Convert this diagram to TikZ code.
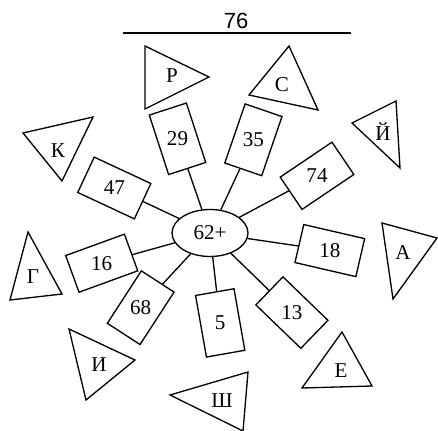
\documentclass[tikz,border=0pt]{standalone}
\usepackage{fontspec}
\setmainfont{Liberation Serif}
\setsansfont{Liberation Sans}
\usetikzlibrary{shapes.geometric}

\tikzset{
    card/.style={draw, rectangle, minimum width=0.78cm, minimum height=1.25cm, inner sep=1pt},
    hub/.style={draw, ellipse, minimum width=1.52cm, minimum height=0.94cm, inner sep=1pt},
    letter/.style={inner sep=0pt}
}

\begin{document}
\begin{tikzpicture}[x=0.02cm, y=-0.02cm, line width=0.75pt, font=\fontsize{12}{14}\selectfont]
        \useasboundingbox (0,0) rectangle (438,431);
        \node[font=\sffamily\fontsize{12.5}{15}\selectfont] (num) at (236,21) {76};
        \draw (123,33) -- (351,33);
        \node[hub] (e) at (210,233) {62+};
        % cards round the hub
        \foreach \n/\x/\y/\a [evaluate=\a as \b using -\a] in {29/177.5/138.8/18,
            35/253.4/139.8/-19, 74/317/175.8/-56, 18/329.8/250.6/77, 13/291.9/312.6/46,
            5/220.2/322.9/10, 68/140.7/307.7/-33, 16/101.7/263.2/-70, 47/114.3/188/65}
        \node[card, rotate=\a] (r\n) at (\x,\y) {\rotatebox{\b}{\n}};
        \foreach \n in {29,35,74,18,13,5,68,16,47}
        \draw (e) -- (r\n);
        % triangles
        \draw (145,46) -- (209,77) -- (145,109) -- cycle;
        \node[letter] (tR) at (172,76) {Р};
        \draw (289,46) -- (318,110) -- (249,95) -- cycle;
        \node[letter] (tS) at (282,85) {С};
        \draw (396,101) -- (400,168) -- (352,123) -- cycle;
        \node[letter] (tJ) at (383,132) {Й};
        \draw (23,133) -- (93,117) -- (62,181) -- cycle;
        \node[letter] (tK) at (58,151) {К};
        \draw (28,232) -- (62,294) -- (10,300) -- cycle;
        \node[letter] (tG) at (33,277) {Г};
        \draw (382,223) -- (437,238) -- (393,299) -- cycle;
        \node[letter] (tA) at (403,253) {А};
        \draw (69,329) -- (135,360) -- (86,400) -- cycle;
        \node[letter] (tI) at (99,365) {И};
        \draw (248,372) -- (243,431) -- (170,395) -- cycle;
        \node[letter] (tSh) at (222,401) {Ш};
        \draw (342,332) -- (372,386) -- (302,388) -- cycle;
        \node[letter] (tE) at (341,371) {Е};
    \end{tikzpicture}
\end{document}
